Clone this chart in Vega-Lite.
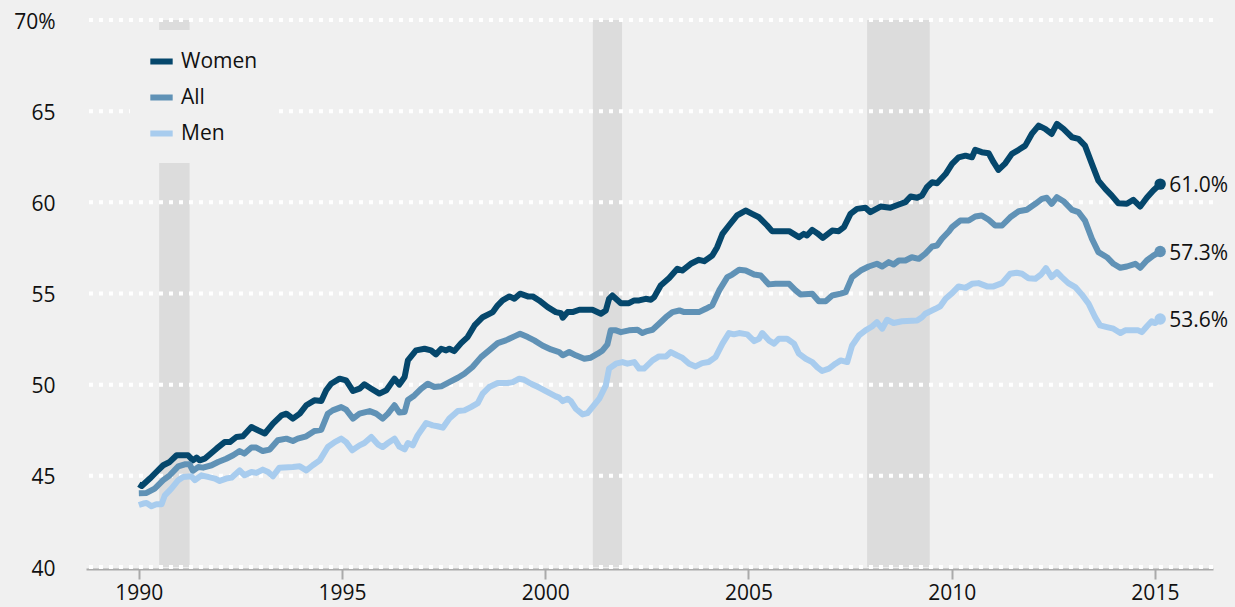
{
  "$schema": "https://vega.github.io/schema/vega-lite/v6.json",
  "width": 1127,
  "height": 547,
  "autosize": {"type": "none"},
  "padding": {"left": 86, "top": 20, "right": 22, "bottom": 40},
  "background": "#f0f0f0",
  "config": {
    "view": {"stroke": null},
    "font": "Open Sans",
    "axis": {"labelFont": "Open Sans", "labelColor": "#111111", "labelFontSize": 21}
  },
  "datasets": {
    "bands": [
      {"start": 1990.5, "end": 1991.25},
      {"start": 2001.17, "end": 2001.89},
      {"start": 2007.92, "end": 2009.46}
    ],
    "grid": [{"g": 40}, {"g": 45}, {"g": 50}, {"g": 55}, {"g": 60}, {"g": 65}, {"g": 70}],
    "d": [
      {"t":1990.00,"s":"Women","v":44.54},{"t":1990.07,"s":"Women","v":44.44},{"t":1990.27,"s":"Women","v":44.85},{"t":1990.43,"s":"Women","v":45.21},{"t":1990.60,"s":"Women","v":45.58},{"t":1990.76,"s":"Women","v":45.76},{"t":1990.93,"s":"Women","v":46.13},{"t":1991.21,"s":"Women","v":46.13},{"t":1991.33,"s":"Women","v":45.85},{"t":1991.42,"s":"Women","v":46.0},{"t":1991.50,"s":"Women","v":45.85},{"t":1991.62,"s":"Women","v":45.94},{"t":1991.91,"s":"Women","v":46.49},{"t":1992.11,"s":"Women","v":46.85},{"t":1992.24,"s":"Women","v":46.85},{"t":1992.40,"s":"Women","v":47.13},{"t":1992.56,"s":"Women","v":47.17},{"t":1992.77,"s":"Women","v":47.68},{"t":1992.93,"s":"Women","v":47.50},{"t":1993.10,"s":"Women","v":47.32},{"t":1993.30,"s":"Women","v":47.86},{"t":1993.51,"s":"Women","v":48.32},{"t":1993.63,"s":"Women","v":48.41},{"t":1993.79,"s":"Women","v":48.14},{"t":1993.96,"s":"Women","v":48.41},{"t":1994.12,"s":"Women","v":48.87},{"t":1994.32,"s":"Women","v":49.14},{"t":1994.49,"s":"Women","v":49.10},{"t":1994.61,"s":"Women","v":49.69},{"t":1994.73,"s":"Women","v":50.05},{"t":1994.94,"s":"Women","v":50.33},{"t":1995.10,"s":"Women","v":50.24},{"t":1995.27,"s":"Women","v":49.65},{"t":1995.43,"s":"Women","v":49.78},{"t":1995.55,"s":"Women","v":50.02},{"t":1995.72,"s":"Women","v":49.78},{"t":1995.92,"s":"Women","v":49.51},{"t":1996.09,"s":"Women","v":49.69},{"t":1996.29,"s":"Women","v":50.33},{"t":1996.41,"s":"Women","v":50.0},{"t":1996.54,"s":"Women","v":50.42},{"t":1996.62,"s":"Women","v":51.33},{"t":1996.82,"s":"Women","v":51.88},{"t":1997.03,"s":"Women","v":51.97},{"t":1997.19,"s":"Women","v":51.88},{"t":1997.31,"s":"Women","v":51.66},{"t":1997.44,"s":"Women","v":51.97},{"t":1997.56,"s":"Women","v":51.88},{"t":1997.64,"s":"Women","v":51.97},{"t":1997.76,"s":"Women","v":51.84},{"t":1997.93,"s":"Women","v":52.28},{"t":1998.09,"s":"Women","v":52.61},{"t":1998.26,"s":"Women","v":53.25},{"t":1998.46,"s":"Women","v":53.70},{"t":1998.71,"s":"Women","v":53.98},{"t":1998.83,"s":"Women","v":54.35},{"t":1998.95,"s":"Women","v":54.62},{"t":1999.12,"s":"Women","v":54.84},{"t":1999.24,"s":"Women","v":54.71},{"t":1999.38,"s":"Women","v":54.99},{"t":1999.57,"s":"Women","v":54.84},{"t":1999.69,"s":"Women","v":54.84},{"t":1999.85,"s":"Women","v":54.62},{"t":2000.06,"s":"Women","v":54.25},{"t":2000.26,"s":"Women","v":53.98},{"t":2000.39,"s":"Women","v":53.92},{"t":2000.43,"s":"Women","v":53.67},{"t":2000.55,"s":"Women","v":53.98},{"t":2000.67,"s":"Women","v":53.98},{"t":2000.84,"s":"Women","v":54.11},{"t":2001.16,"s":"Women","v":54.11},{"t":2001.37,"s":"Women","v":53.89},{"t":2001.49,"s":"Women","v":54.07},{"t":2001.57,"s":"Women","v":54.71},{"t":2001.65,"s":"Women","v":54.89},{"t":2001.86,"s":"Women","v":54.47},{"t":2002.06,"s":"Women","v":54.47},{"t":2002.19,"s":"Women","v":54.62},{"t":2002.31,"s":"Women","v":54.62},{"t":2002.47,"s":"Women","v":54.71},{"t":2002.60,"s":"Women","v":54.66},{"t":2002.68,"s":"Women","v":54.80},{"t":2002.84,"s":"Women","v":55.44},{"t":2003.05,"s":"Women","v":55.85},{"t":2003.25,"s":"Women","v":56.36},{"t":2003.37,"s":"Women","v":56.26},{"t":2003.58,"s":"Women","v":56.63},{"t":2003.78,"s":"Women","v":56.85},{"t":2003.91,"s":"Women","v":56.77},{"t":2004.11,"s":"Women","v":57.08},{"t":2004.23,"s":"Women","v":57.54},{"t":2004.36,"s":"Women","v":58.27},{"t":2004.52,"s":"Women","v":58.73},{"t":2004.72,"s":"Women","v":59.28},{"t":2004.93,"s":"Women","v":59.55},{"t":2005.09,"s":"Women","v":59.37},{"t":2005.26,"s":"Women","v":59.18},{"t":2005.46,"s":"Women","v":58.73},{"t":2005.58,"s":"Women","v":58.42},{"t":2006.00,"s":"Women","v":58.42},{"t":2006.24,"s":"Women","v":58.09},{"t":2006.36,"s":"Women","v":58.27},{"t":2006.44,"s":"Women","v":58.18},{"t":2006.57,"s":"Women","v":58.49},{"t":2006.69,"s":"Women","v":58.31},{"t":2006.83,"s":"Women","v":58.05},{"t":2007.06,"s":"Women","v":58.45},{"t":2007.22,"s":"Women","v":58.42},{"t":2007.35,"s":"Women","v":58.64},{"t":2007.51,"s":"Women","v":59.37},{"t":2007.67,"s":"Women","v":59.64},{"t":2007.88,"s":"Women","v":59.70},{"t":2008.00,"s":"Women","v":59.46},{"t":2008.25,"s":"Women","v":59.77},{"t":2008.49,"s":"Women","v":59.70},{"t":2008.70,"s":"Women","v":59.88},{"t":2008.86,"s":"Women","v":60.01},{"t":2008.99,"s":"Women","v":60.32},{"t":2009.15,"s":"Women","v":60.25},{"t":2009.27,"s":"Women","v":60.37},{"t":2009.39,"s":"Women","v":60.83},{"t":2009.52,"s":"Women","v":61.10},{"t":2009.64,"s":"Women","v":61.05},{"t":2009.85,"s":"Women","v":61.55},{"t":2010.01,"s":"Women","v":62.11},{"t":2010.17,"s":"Women","v":62.47},{"t":2010.34,"s":"Women","v":62.56},{"t":2010.50,"s":"Women","v":62.47},{"t":2010.58,"s":"Women","v":62.88},{"t":2010.74,"s":"Women","v":62.75},{"t":2010.91,"s":"Women","v":62.69},{"t":2011.03,"s":"Women","v":62.20},{"t":2011.15,"s":"Women","v":61.78},{"t":2011.32,"s":"Women","v":62.14},{"t":2011.48,"s":"Women","v":62.66},{"t":2011.65,"s":"Women","v":62.88},{"t":2011.81,"s":"Women","v":63.11},{"t":2011.97,"s":"Women","v":63.75},{"t":2012.14,"s":"Women","v":64.21},{"t":2012.30,"s":"Women","v":64.03},{"t":2012.46,"s":"Women","v":63.75},{"t":2012.59,"s":"Women","v":64.30},{"t":2012.75,"s":"Women","v":64.03},{"t":2012.96,"s":"Women","v":63.57},{"t":2013.12,"s":"Women","v":63.48},{"t":2013.28,"s":"Women","v":63.11},{"t":2013.45,"s":"Women","v":62.11},{"t":2013.61,"s":"Women","v":61.19},{"t":2013.78,"s":"Women","v":60.74},{"t":2013.94,"s":"Women","v":60.37},{"t":2014.10,"s":"Women","v":59.95},{"t":2014.31,"s":"Women","v":59.92},{"t":2014.47,"s":"Women","v":60.14},{"t":2014.64,"s":"Women","v":59.77},{"t":2014.80,"s":"Women","v":60.25},{"t":2014.96,"s":"Women","v":60.65},{"t":2015.13,"s":"Women","v":61.0},
      {"t":1990.00,"s":"All","v":44.05},{"t":1990.19,"s":"All","v":44.06},{"t":1990.39,"s":"All","v":44.30},{"t":1990.60,"s":"All","v":44.76},{"t":1990.76,"s":"All","v":45.03},{"t":1990.97,"s":"All","v":45.52},{"t":1991.13,"s":"All","v":45.63},{"t":1991.25,"s":"All","v":45.63},{"t":1991.33,"s":"All","v":45.27},{"t":1991.46,"s":"All","v":45.48},{"t":1991.58,"s":"All","v":45.45},{"t":1991.79,"s":"All","v":45.58},{"t":1991.95,"s":"All","v":45.76},{"t":1992.15,"s":"All","v":45.94},{"t":1992.32,"s":"All","v":46.13},{"t":1992.48,"s":"All","v":46.36},{"t":1992.60,"s":"All","v":46.22},{"t":1992.77,"s":"All","v":46.55},{"t":1992.89,"s":"All","v":46.55},{"t":1993.05,"s":"All","v":46.36},{"t":1993.22,"s":"All","v":46.44},{"t":1993.42,"s":"All","v":46.95},{"t":1993.63,"s":"All","v":47.04},{"t":1993.79,"s":"All","v":46.91},{"t":1993.91,"s":"All","v":47.04},{"t":1994.12,"s":"All","v":47.17},{"t":1994.32,"s":"All","v":47.46},{"t":1994.49,"s":"All","v":47.53},{"t":1994.65,"s":"All","v":48.41},{"t":1994.77,"s":"All","v":48.59},{"t":1994.98,"s":"All","v":48.77},{"t":1995.10,"s":"All","v":48.63},{"t":1995.27,"s":"All","v":48.14},{"t":1995.43,"s":"All","v":48.41},{"t":1995.68,"s":"All","v":48.55},{"t":1995.84,"s":"All","v":48.41},{"t":1996.00,"s":"All","v":48.14},{"t":1996.13,"s":"All","v":48.41},{"t":1996.29,"s":"All","v":48.87},{"t":1996.41,"s":"All","v":48.47},{"t":1996.54,"s":"All","v":48.50},{"t":1996.62,"s":"All","v":49.16},{"t":1996.78,"s":"All","v":49.41},{"t":1996.95,"s":"All","v":49.78},{"t":1997.11,"s":"All","v":50.05},{"t":1997.27,"s":"All","v":49.87},{"t":1997.44,"s":"All","v":49.91},{"t":1997.64,"s":"All","v":50.14},{"t":1997.85,"s":"All","v":50.38},{"t":1998.01,"s":"All","v":50.60},{"t":1998.21,"s":"All","v":50.97},{"t":1998.42,"s":"All","v":51.51},{"t":1998.62,"s":"All","v":51.88},{"t":1998.83,"s":"All","v":52.28},{"t":1999.03,"s":"All","v":52.43},{"t":1999.24,"s":"All","v":52.65},{"t":1999.38,"s":"All","v":52.79},{"t":1999.57,"s":"All","v":52.61},{"t":1999.73,"s":"All","v":52.43},{"t":1999.93,"s":"All","v":52.15},{"t":2000.14,"s":"All","v":51.93},{"t":2000.34,"s":"All","v":51.79},{"t":2000.43,"s":"All","v":51.61},{"t":2000.59,"s":"All","v":51.79},{"t":2000.75,"s":"All","v":51.61},{"t":2000.96,"s":"All","v":51.42},{"t":2001.12,"s":"All","v":51.48},{"t":2001.29,"s":"All","v":51.70},{"t":2001.41,"s":"All","v":51.88},{"t":2001.53,"s":"All","v":52.21},{"t":2001.61,"s":"All","v":52.98},{"t":2001.74,"s":"All","v":52.98},{"t":2001.86,"s":"All","v":52.88},{"t":2002.06,"s":"All","v":52.98},{"t":2002.27,"s":"All","v":53.01},{"t":2002.39,"s":"All","v":52.83},{"t":2002.51,"s":"All","v":52.94},{"t":2002.64,"s":"All","v":53.01},{"t":2002.80,"s":"All","v":53.34},{"t":2002.97,"s":"All","v":53.70},{"t":2003.13,"s":"All","v":53.98},{"t":2003.30,"s":"All","v":54.07},{"t":2003.42,"s":"All","v":53.98},{"t":2003.78,"s":"All","v":53.98},{"t":2003.95,"s":"All","v":54.16},{"t":2004.11,"s":"All","v":54.35},{"t":2004.28,"s":"All","v":55.17},{"t":2004.48,"s":"All","v":55.90},{"t":2004.60,"s":"All","v":56.04},{"t":2004.77,"s":"All","v":56.30},{"t":2004.93,"s":"All","v":56.26},{"t":2005.14,"s":"All","v":56.04},{"t":2005.30,"s":"All","v":55.99},{"t":2005.50,"s":"All","v":55.50},{"t":2005.67,"s":"All","v":55.53},{"t":2006.00,"s":"All","v":55.53},{"t":2006.16,"s":"All","v":55.17},{"t":2006.28,"s":"All","v":54.95},{"t":2006.57,"s":"All","v":54.99},{"t":2006.73,"s":"All","v":54.58},{"t":2006.90,"s":"All","v":54.58},{"t":2007.06,"s":"All","v":54.89},{"t":2007.27,"s":"All","v":54.99},{"t":2007.39,"s":"All","v":55.07},{"t":2007.55,"s":"All","v":55.90},{"t":2007.76,"s":"All","v":56.26},{"t":2007.96,"s":"All","v":56.48},{"t":2008.16,"s":"All","v":56.63},{"t":2008.29,"s":"All","v":56.48},{"t":2008.45,"s":"All","v":56.72},{"t":2008.57,"s":"All","v":56.59},{"t":2008.70,"s":"All","v":56.81},{"t":2008.86,"s":"All","v":56.81},{"t":2009.02,"s":"All","v":56.99},{"t":2009.19,"s":"All","v":56.90},{"t":2009.35,"s":"All","v":57.18},{"t":2009.52,"s":"All","v":57.58},{"t":2009.64,"s":"All","v":57.63},{"t":2009.76,"s":"All","v":58.0},{"t":2009.93,"s":"All","v":58.4},{"t":2010.01,"s":"All","v":58.64},{"t":2010.21,"s":"All","v":59.00},{"t":2010.42,"s":"All","v":59.00},{"t":2010.58,"s":"All","v":59.22},{"t":2010.74,"s":"All","v":59.28},{"t":2010.91,"s":"All","v":59.04},{"t":2011.07,"s":"All","v":58.73},{"t":2011.24,"s":"All","v":58.73},{"t":2011.44,"s":"All","v":59.18},{"t":2011.65,"s":"All","v":59.51},{"t":2011.85,"s":"All","v":59.59},{"t":2012.06,"s":"All","v":59.92},{"t":2012.22,"s":"All","v":60.19},{"t":2012.34,"s":"All","v":60.25},{"t":2012.46,"s":"All","v":59.92},{"t":2012.59,"s":"All","v":60.28},{"t":2012.75,"s":"All","v":60.06},{"t":2012.96,"s":"All","v":59.59},{"t":2013.12,"s":"All","v":59.46},{"t":2013.28,"s":"All","v":59.00},{"t":2013.45,"s":"All","v":58.00},{"t":2013.61,"s":"All","v":57.27},{"t":2013.82,"s":"All","v":56.99},{"t":2013.98,"s":"All","v":56.63},{"t":2014.15,"s":"All","v":56.41},{"t":2014.31,"s":"All","v":56.48},{"t":2014.52,"s":"All","v":56.63},{"t":2014.64,"s":"All","v":56.41},{"t":2014.80,"s":"All","v":56.81},{"t":2014.96,"s":"All","v":57.08},{"t":2015.13,"s":"All","v":57.3},
      {"t":1990.00,"s":"Men","v":43.40},{"t":1990.11,"s":"Men","v":43.48},{"t":1990.19,"s":"Men","v":43.51},{"t":1990.31,"s":"Men","v":43.33},{"t":1990.43,"s":"Men","v":43.44},{"t":1990.56,"s":"Men","v":43.44},{"t":1990.64,"s":"Men","v":43.93},{"t":1990.80,"s":"Men","v":44.30},{"t":1990.97,"s":"Men","v":44.76},{"t":1991.09,"s":"Men","v":44.94},{"t":1991.29,"s":"Men","v":44.98},{"t":1991.38,"s":"Men","v":44.76},{"t":1991.54,"s":"Men","v":45.03},{"t":1991.70,"s":"Men","v":44.94},{"t":1991.87,"s":"Men","v":44.85},{"t":1991.99,"s":"Men","v":44.72},{"t":1992.15,"s":"Men","v":44.85},{"t":1992.28,"s":"Men","v":44.90},{"t":1992.48,"s":"Men","v":45.30},{"t":1992.60,"s":"Men","v":45.03},{"t":1992.77,"s":"Men","v":45.21},{"t":1992.89,"s":"Men","v":45.16},{"t":1993.05,"s":"Men","v":45.34},{"t":1993.18,"s":"Men","v":45.21},{"t":1993.30,"s":"Men","v":44.98},{"t":1993.46,"s":"Men","v":45.45},{"t":1993.79,"s":"Men","v":45.48},{"t":1993.96,"s":"Men","v":45.52},{"t":1994.12,"s":"Men","v":45.30},{"t":1994.28,"s":"Men","v":45.58},{"t":1994.45,"s":"Men","v":45.85},{"t":1994.65,"s":"Men","v":46.58},{"t":1994.82,"s":"Men","v":46.85},{"t":1994.98,"s":"Men","v":47.04},{"t":1995.10,"s":"Men","v":46.85},{"t":1995.25,"s":"Men","v":46.40},{"t":1995.43,"s":"Men","v":46.67},{"t":1995.55,"s":"Men","v":46.80},{"t":1995.72,"s":"Men","v":47.13},{"t":1995.88,"s":"Men","v":46.73},{"t":1996.00,"s":"Men","v":46.58},{"t":1996.13,"s":"Men","v":46.80},{"t":1996.29,"s":"Men","v":47.04},{"t":1996.41,"s":"Men","v":46.60},{"t":1996.54,"s":"Men","v":46.45},{"t":1996.62,"s":"Men","v":46.80},{"t":1996.74,"s":"Men","v":46.67},{"t":1996.86,"s":"Men","v":47.22},{"t":1997.07,"s":"Men","v":47.90},{"t":1997.23,"s":"Men","v":47.77},{"t":1997.35,"s":"Men","v":47.72},{"t":1997.48,"s":"Men","v":47.64},{"t":1997.64,"s":"Men","v":48.14},{"t":1997.85,"s":"Men","v":48.55},{"t":1998.01,"s":"Men","v":48.59},{"t":1998.17,"s":"Men","v":48.77},{"t":1998.34,"s":"Men","v":48.99},{"t":1998.46,"s":"Men","v":49.51},{"t":1998.62,"s":"Men","v":49.87},{"t":1998.83,"s":"Men","v":50.09},{"t":1999.07,"s":"Men","v":50.09},{"t":1999.20,"s":"Men","v":50.14},{"t":1999.36,"s":"Men","v":50.33},{"t":1999.48,"s":"Men","v":50.27},{"t":1999.65,"s":"Men","v":50.05},{"t":1999.85,"s":"Men","v":49.84},{"t":2000.06,"s":"Men","v":49.59},{"t":2000.26,"s":"Men","v":49.36},{"t":2000.34,"s":"Men","v":49.29},{"t":2000.43,"s":"Men","v":49.10},{"t":2000.55,"s":"Men","v":49.23},{"t":2000.63,"s":"Men","v":49.10},{"t":2000.75,"s":"Men","v":48.68},{"t":2000.92,"s":"Men","v":48.37},{"t":2001.04,"s":"Men","v":48.44},{"t":2001.16,"s":"Men","v":48.77},{"t":2001.33,"s":"Men","v":49.23},{"t":2001.49,"s":"Men","v":49.96},{"t":2001.57,"s":"Men","v":50.88},{"t":2001.74,"s":"Men","v":51.15},{"t":2001.90,"s":"Men","v":51.24},{"t":2002.02,"s":"Men","v":51.15},{"t":2002.19,"s":"Men","v":51.24},{"t":2002.31,"s":"Men","v":50.88},{"t":2002.43,"s":"Men","v":50.88},{"t":2002.64,"s":"Men","v":51.33},{"t":2002.80,"s":"Men","v":51.55},{"t":2002.97,"s":"Men","v":51.55},{"t":2003.09,"s":"Men","v":51.79},{"t":2003.25,"s":"Men","v":51.60},{"t":2003.37,"s":"Men","v":51.48},{"t":2003.54,"s":"Men","v":51.15},{"t":2003.70,"s":"Men","v":51.00},{"t":2003.86,"s":"Men","v":51.18},{"t":2004.02,"s":"Men","v":51.24},{"t":2004.19,"s":"Men","v":51.51},{"t":2004.36,"s":"Men","v":52.25},{"t":2004.52,"s":"Men","v":52.83},{"t":2004.64,"s":"Men","v":52.76},{"t":2004.77,"s":"Men","v":52.83},{"t":2004.97,"s":"Men","v":52.76},{"t":2005.14,"s":"Men","v":52.39},{"t":2005.26,"s":"Men","v":52.52},{"t":2005.34,"s":"Men","v":52.83},{"t":2005.50,"s":"Men","v":52.43},{"t":2005.63,"s":"Men","v":52.25},{"t":2005.75,"s":"Men","v":52.52},{"t":2005.95,"s":"Men","v":52.52},{"t":2006.12,"s":"Men","v":52.25},{"t":2006.24,"s":"Men","v":51.70},{"t":2006.41,"s":"Men","v":51.42},{"t":2006.57,"s":"Men","v":51.24},{"t":2006.69,"s":"Men","v":50.96},{"t":2006.81,"s":"Men","v":50.75},{"t":2006.98,"s":"Men","v":50.88},{"t":2007.14,"s":"Men","v":51.15},{"t":2007.27,"s":"Men","v":51.33},{"t":2007.43,"s":"Men","v":51.24},{"t":2007.55,"s":"Men","v":52.15},{"t":2007.72,"s":"Men","v":52.70},{"t":2007.88,"s":"Men","v":52.98},{"t":2008.04,"s":"Men","v":53.19},{"t":2008.16,"s":"Men","v":53.43},{"t":2008.29,"s":"Men","v":53.07},{"t":2008.41,"s":"Men","v":53.56},{"t":2008.57,"s":"Men","v":53.38},{"t":2008.78,"s":"Men","v":53.48},{"t":2009.15,"s":"Men","v":53.52},{"t":2009.27,"s":"Men","v":53.70},{"t":2009.35,"s":"Men","v":53.89},{"t":2009.60,"s":"Men","v":54.16},{"t":2009.72,"s":"Men","v":54.30},{"t":2009.85,"s":"Men","v":54.71},{"t":2010.01,"s":"Men","v":55.02},{"t":2010.17,"s":"Men","v":55.39},{"t":2010.34,"s":"Men","v":55.31},{"t":2010.50,"s":"Men","v":55.53},{"t":2010.66,"s":"Men","v":55.57},{"t":2010.87,"s":"Men","v":55.39},{"t":2011.03,"s":"Men","v":55.39},{"t":2011.24,"s":"Men","v":55.57},{"t":2011.44,"s":"Men","v":56.08},{"t":2011.60,"s":"Men","v":56.14},{"t":2011.73,"s":"Men","v":56.08},{"t":2011.89,"s":"Men","v":55.84},{"t":2012.06,"s":"Men","v":55.81},{"t":2012.20,"s":"Men","v":56.04},{"t":2012.32,"s":"Men","v":56.39},{"t":2012.46,"s":"Men","v":55.90},{"t":2012.59,"s":"Men","v":56.17},{"t":2012.71,"s":"Men","v":55.90},{"t":2012.87,"s":"Men","v":55.57},{"t":2013.04,"s":"Men","v":55.35},{"t":2013.20,"s":"Men","v":54.95},{"t":2013.37,"s":"Men","v":54.44},{"t":2013.53,"s":"Men","v":53.70},{"t":2013.65,"s":"Men","v":53.25},{"t":2013.82,"s":"Men","v":53.16},{"t":2013.98,"s":"Men","v":53.07},{"t":2014.15,"s":"Men","v":52.83},{"t":2014.27,"s":"Men","v":52.98},{"t":2014.59,"s":"Men","v":52.98},{"t":2014.68,"s":"Men","v":52.88},{"t":2014.80,"s":"Men","v":53.19},{"t":2014.92,"s":"Men","v":53.48},{"t":2015.00,"s":"Men","v":53.38},{"t":2015.13,"s":"Men","v":53.6}
    ]
  },
  "layer": [
    {
      "data": {"name": "bands"},
      "mark": {"type": "rect", "color": "#dcdcdc"},
      "encoding": {
        "x": {"field": "start", "type": "quantitative", "title": null},
        "x2": {"field": "end"},
        "y": {"datum": 40, "type": "quantitative"},
        "y2": {"datum": 70}
      }
    },
    {
      "data": {"name": "grid"},
      "mark": {"type": "rule", "color": "#ffffff", "strokeWidth": 4, "strokeDash": [4, 6]},
      "encoding": {
        "y": {"field": "g", "type": "quantitative", "title": null}
      }
    },
    {
      "data": {"name": "d"},
      "mark": {"type": "line", "strokeWidth": 6, "strokeJoin": "round"},
      "encoding": {
        "x": {
          "field": "t", "type": "quantitative", "title": null,
          "scale": {"domain": [1988.7, 2016.43], "nice": false, "zero": false},
          "axis": {
            "values": [1990, 1995, 2000, 2005, 2010, 2015], "format": "d",
            "grid": false, "tickSize": 10, "tickWidth": 2, "tickColor": "#aaaaaa",
            "domainColor": "#aaaaaa", "domainWidth": 2, "offset": 2, "labelPadding": 3,
            "labelFontSize": 21
          }
        },
        "y": {
          "field": "v", "type": "quantitative", "title": null,
          "scale": {"domain": [40, 70], "nice": false, "zero": false},
          "axis": {
            "values": [40, 45, 50, 55, 60, 65, 70], "grid": false, "domain": false,
            "ticks": false, "labelPadding": 31, "labelFontSize": 21, "labelOffset": 2,
            "labelExpr": "datum.value == 70 ? '70%' : datum.label"
          }
        },
        "color": {
          "field": "s", "type": "nominal",
          "scale": {"domain": ["Women", "All", "Men"], "range": ["#05476c", "#6092b6", "#a8ccee"]},
          "legend": {
            "title": null, "orient": "none", "legendX": 44, "legendY": 10, "padding": 17,
            "fillColor": "#f0f0f0", "symbolType": "stroke", "symbolStrokeWidth": 6,
            "symbolSize": 500, "labelFontSize": 21, "labelOffset": 5, "rowPadding": 9,
            "labelColor": "#111111", "labelFont": "Open Sans"
          }
        }
      }
    },
    {
      "data": {"name": "d"},
      "transform": [{"filter": "datum.t == 2015.13"}],
      "mark": {"type": "point", "filled": true, "size": 130, "opacity": 1},
      "encoding": {
        "x": {"field": "t", "type": "quantitative", "title": null},
        "y": {"field": "v", "type": "quantitative", "title": null},
        "color": {"field": "s", "type": "nominal", "legend": null}
      }
    },
    {
      "data": {"name": "d"},
      "transform": [
        {"filter": "datum.t == 2015.13"},
        {"calculate": "format(datum.v, '.1f') + '%'", "as": "lab"}
      ],
      "mark": {"type": "text", "align": "left", "baseline": "middle", "dx": 9, "dy": 2, "fontSize": 21, "color": "#111111", "font": "Open Sans"},
      "encoding": {
        "x": {"field": "t", "type": "quantitative", "title": null},
        "y": {"field": "v", "type": "quantitative", "title": null},
        "text": {"field": "lab"}
      }
    }
  ]
}
